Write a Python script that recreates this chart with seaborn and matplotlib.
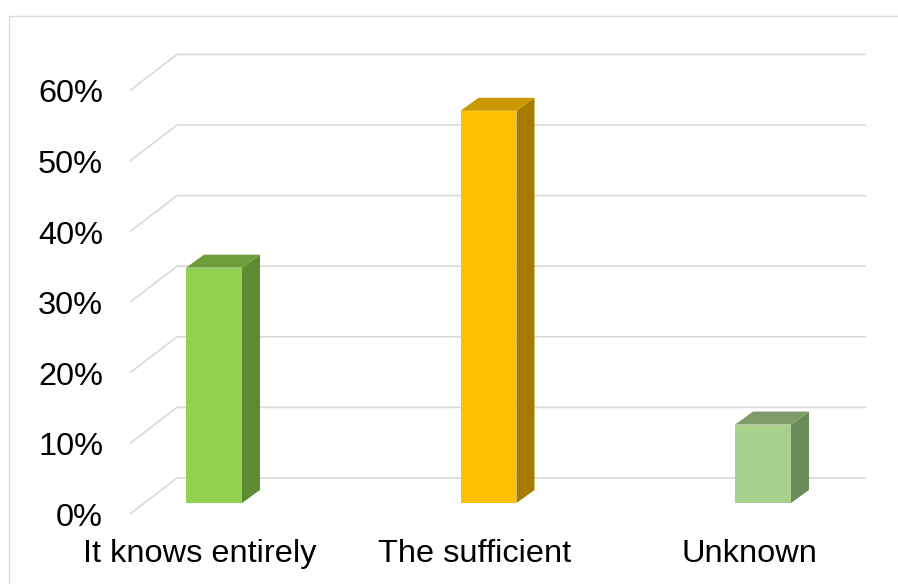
import matplotlib
matplotlib.use("Agg")
import matplotlib.pyplot as plt
from matplotlib.patches import Polygon, Rectangle
import seaborn as sns
import pandas as pd

categories = ["It knows entirely", "The sufficient", "Unknown"]
shares = [3 / 9, 5 / 9, 1 / 9]
ticks = [0.0, 0.1, 0.2, 0.3, 0.4, 0.5, 0.6]
tick_labels = ["0%", "10%", "20%", "30%", "40%", "50%", "60%"]

front_colors = ["#92D050", "#FFC000", "#A9D18E"]
side_colors = ["#5E8A31", "#A67C00", "#6C8B5A"]
top_colors = ["#6E9D3B", "#C89800", "#7E9D69"]

sns.set_theme(style="white")
plt.rcParams["font.family"] = ["Liberation Sans", "DejaVu Sans"]

W, H = 898, 584
fig = plt.figure(figsize=(W / 100, H / 100), dpi=100)
fig.patch.set_facecolor("white")

# chart-area frame
fig.add_artist(Rectangle((9 / W, -0.1), 1.2, (H - 16) / H + 0.1,
                         transform=fig.transFigure, fill=False,
                         edgecolor="#D9D9D9", linewidth=1.0))

ax = fig.add_axes([76.75 / W, 81 / H, 823.5 / W, 423.6 / H])
ax.set_xlim(-0.5, 2.5)
ax.set_ylim(0, 0.6)
ax.set_facecolor("none")
for s in ax.spines.values():
    s.set_visible(False)

df = pd.DataFrame({"category": categories, "share": shares})
bar_w = 0.204
sns.barplot(data=df, x="category", y="share", hue="category",
            palette=front_colors, width=bar_w, legend=False, ax=ax,
            saturation=1, zorder=3, linewidth=0)
ax.set_xlim(-0.5, 2.5)
ax.set_ylim(0, 0.6)
ax.set_xticks([])
ax.set_yticks([])
ax.set_xlabel("")
ax.set_ylabel("")

# pixel -> data conversion
px_x = 823.5 / 3.0
px_y = 423.6 / 0.6

def dx(p):
    return p / px_x

def dy(p):
    return p / px_y

# depth offsets (pixels): bar depth, back wall, front edge
bd_x, bd_y = 18, 13
back_x, back_y = 33, 25
front_x, front_y = -14, -11
x_left, x_right = -0.255, 2.255

# gridlines: diagonal on the side plus horizontal on the back wall
for v in ticks:
    xs = [x_left + dx(front_x), x_left + dx(back_x), x_right + dx(back_x)]
    ys = [v + dy(front_y), v + dy(back_y), v + dy(back_y)]
    ax.plot(xs, ys, color="#D9D9D9", linewidth=1.2, zorder=1,
            clip_on=False, solid_capstyle="butt")

# side and top faces of each bar
for i, v in enumerate(shares):
    l, r = i - bar_w / 2, i + bar_w / 2
    ox, oy = dx(bd_x), dy(bd_y)
    side = Polygon([(r, 0), (r + ox, oy), (r + ox, v + oy), (r, v)],
                   closed=True, facecolor=side_colors[i], edgecolor="none",
                   zorder=3, clip_on=False)
    top = Polygon([(l, v), (r, v), (r + ox, v + oy), (l + ox, v + oy)],
                  closed=True, facecolor=top_colors[i], edgecolor="none",
                  zorder=3, clip_on=False)
    ax.add_patch(side)
    ax.add_patch(top)

# value-axis labels
for v, t in zip(ticks, tick_labels):
    ax.text(x_left + dx(front_x - 27), v - dy(23), t, ha="right",
            va="baseline", fontsize=23.4, color="#000000", clip_on=False)

# category labels
for i, c in enumerate(categories):
    ax.text(i + dx(front_x), -dy(59), c, ha="center", va="baseline",
            fontsize=23.4, color="#000000", clip_on=False)

fig.savefig("out.png", dpi=100)
